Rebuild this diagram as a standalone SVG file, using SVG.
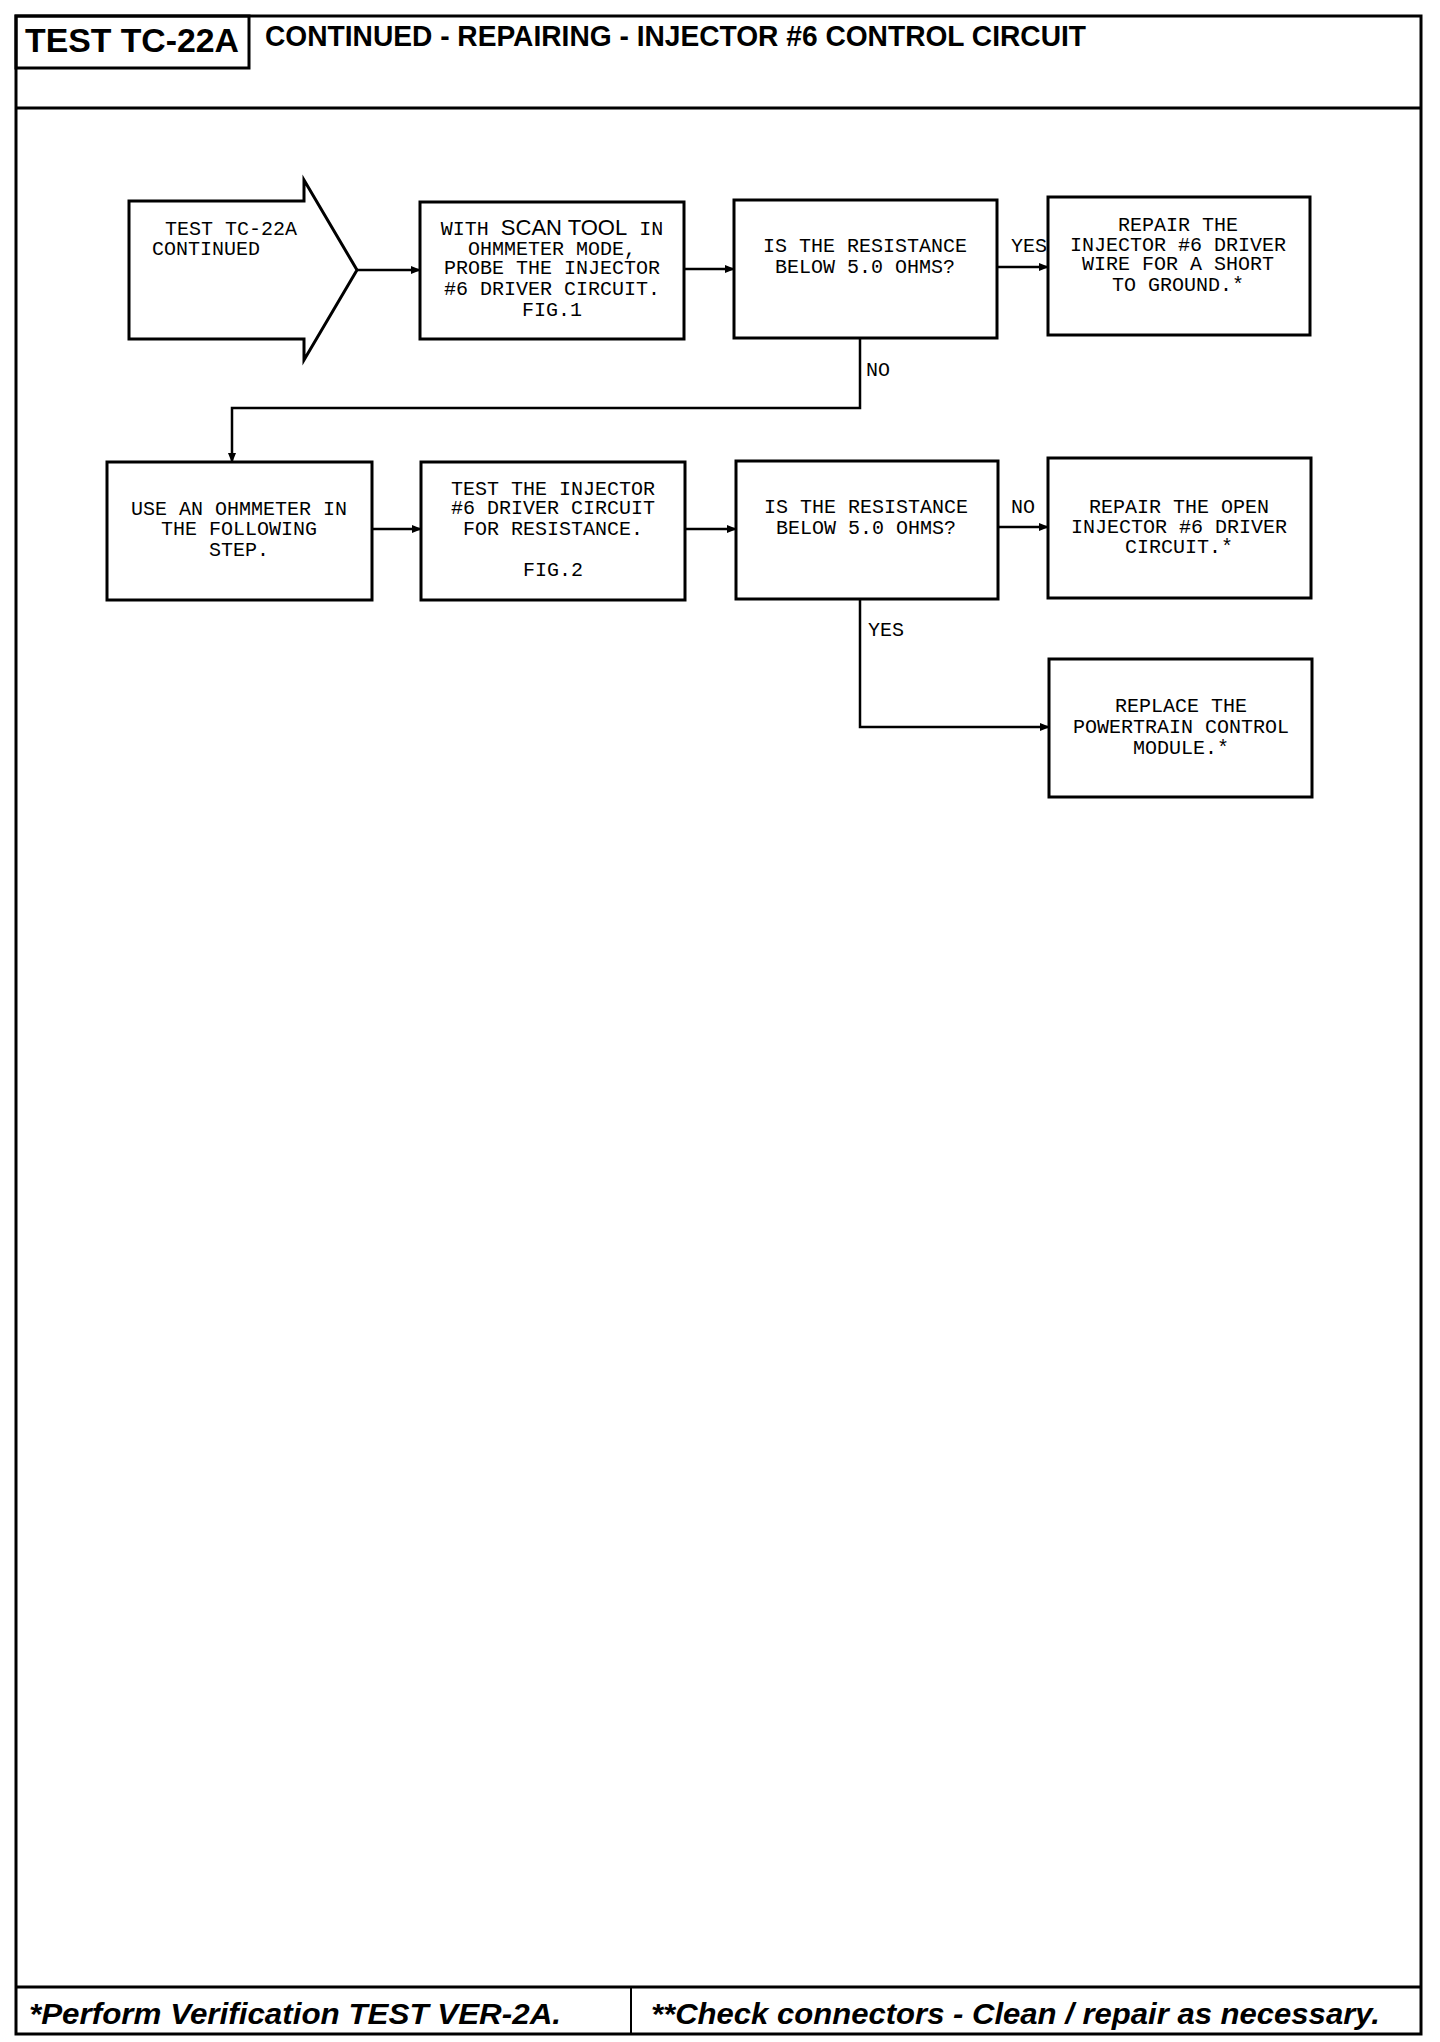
<svg xmlns="http://www.w3.org/2000/svg" width="1440" height="2042" viewBox="0 0 1440 2042">
<style>
.frame{fill:none;stroke:#000;stroke-width:3}
.box{fill:#fff;stroke:#000;stroke-width:3}
.con{fill:none;stroke:#000;stroke-width:2.5}
.t{font-family:"Liberation Mono","DejaVu Sans Mono",monospace;font-size:20px;fill:#000;text-anchor:middle}
.lbl{font-family:"Liberation Mono","DejaVu Sans Mono",monospace;font-size:20px;fill:#000}
.hd{font-family:"Liberation Sans",Arial,sans-serif;font-weight:bold;fill:#000}
.ft{font-family:"Liberation Sans",Arial,sans-serif;font-weight:bold;font-style:italic;fill:#000}
</style>
<defs>
<marker id="ah" markerWidth="10" markerHeight="8" refX="9" refY="4" orient="auto" markerUnits="userSpaceOnUse">
<path d="M0,0 L10,4 L0,8 Z" fill="#000"/>
</marker>
</defs>
<rect width="1440" height="2042" fill="#fff"/>
<g id="frame">
<rect class="frame" x="16" y="16" width="1405" height="2018"/>
<rect class="frame" x="16" y="16" width="233" height="52"/>
<line class="frame" x1="16" y1="108" x2="1421" y2="108"/>
<line class="frame" x1="16" y1="1987" x2="1421" y2="1987"/>
<line x1="631" y1="1987" x2="631" y2="2034" stroke="#000" stroke-width="2"/>
<text class="hd" x="25" y="52" font-size="34" textLength="214" lengthAdjust="spacingAndGlyphs">TEST TC-22A</text>
<text class="hd" x="265" y="46" font-size="29" textLength="821" lengthAdjust="spacingAndGlyphs">CONTINUED - REPAIRING - INJECTOR #6 CONTROL CIRCUIT</text>
<text class="ft" x="29" y="2024" font-size="30" textLength="532" lengthAdjust="spacingAndGlyphs">*Perform Verification TEST VER-2A.</text>
<text class="ft" x="651" y="2024" font-size="30" textLength="729" lengthAdjust="spacingAndGlyphs">**Check connectors - Clean / repair as necessary.</text>
</g>
<g id="connectors">
<line class="con" x1="357" y1="270" x2="420" y2="270" marker-end="url(#ah)"/>
<line class="con" x1="684" y1="269" x2="734" y2="269" marker-end="url(#ah)"/>
<line class="con" x1="997" y1="267" x2="1048" y2="267" marker-end="url(#ah)"/>
<polyline class="con" points="860,338 860,408 232,408 232,462" marker-end="url(#ah)"/>
<line class="con" x1="372" y1="529" x2="421" y2="529" marker-end="url(#ah)"/>
<line class="con" x1="685" y1="529" x2="736" y2="529" marker-end="url(#ah)"/>
<line class="con" x1="998" y1="527" x2="1048" y2="527" marker-end="url(#ah)"/>
<polyline class="con" points="860,599 860,727 1049,727" marker-end="url(#ah)"/>
<text class="lbl" x="1011" y="252">YES</text>
<text class="lbl" x="866" y="376">NO</text>
<text class="lbl" x="1011" y="513">NO</text>
<text class="lbl" x="868" y="636">YES</text>
</g>
<g id="start">
<polygon class="box" points="129,201 304,201 304,180 357,270 304,360 304,339 129,339"/>
<text class="lbl" x="165" y="235">TEST TC-22A</text>
<text class="lbl" x="152" y="255">CONTINUED</text>
</g>
<g id="probe">
<rect class="box" x="420" y="202" width="264" height="137"/>
<text class="t" x="552" y="235">WITH <tspan font-family="Liberation Sans, Arial, sans-serif" font-size="22">SCAN TOOL</tspan> IN</text>
<text class="t" x="552" y="255">OHMMETER MODE,</text>
<text class="t" x="552" y="274">PROBE THE INJECTOR</text>
<text class="t" x="552" y="295">#6 DRIVER CIRCUIT.</text>
<text class="t" x="552" y="316">FIG.1</text>
</g>
<g id="decision1">
<rect class="box" x="734" y="200" width="263" height="138"/>
<text class="t" x="865" y="252">IS THE RESISTANCE</text>
<text class="t" x="865" y="273">BELOW 5.0 OHMS?</text>
</g>
<g id="repair-short">
<rect class="box" x="1048" y="197" width="262" height="138"/>
<text class="t" x="1178" y="231">REPAIR THE</text>
<text class="t" x="1178" y="251">INJECTOR #6 DRIVER</text>
<text class="t" x="1178" y="270">WIRE FOR A SHORT</text>
<text class="t" x="1178" y="291">TO GROUND.*</text>
</g>
<g id="use-ohmmeter">
<rect class="box" x="107" y="462" width="265" height="138"/>
<text class="t" x="239" y="515">USE AN OHMMETER IN</text>
<text class="t" x="239" y="535">THE FOLLOWING</text>
<text class="t" x="239" y="556">STEP.</text>
</g>
<g id="test-injector">
<rect class="box" x="421" y="462" width="264" height="138"/>
<text class="t" x="553" y="495">TEST THE INJECTOR</text>
<text class="t" x="553" y="514">#6 DRIVER CIRCUIT</text>
<text class="t" x="553" y="535">FOR RESISTANCE.</text>
<text class="t" x="553" y="576">FIG.2</text>
</g>
<g id="decision2">
<rect class="box" x="736" y="461" width="262" height="138"/>
<text class="t" x="866" y="513">IS THE RESISTANCE</text>
<text class="t" x="866" y="534">BELOW 5.0 OHMS?</text>
</g>
<g id="repair-open">
<rect class="box" x="1048" y="458" width="263" height="140"/>
<text class="t" x="1179" y="513">REPAIR THE OPEN</text>
<text class="t" x="1179" y="533">INJECTOR #6 DRIVER</text>
<text class="t" x="1179" y="553">CIRCUIT.*</text>
</g>
<g id="replace-pcm">
<rect class="box" x="1049" y="659" width="263" height="138"/>
<text class="t" x="1181" y="712">REPLACE THE</text>
<text class="t" x="1181" y="733">POWERTRAIN CONTROL</text>
<text class="t" x="1181" y="754">MODULE.*</text>
</g>
</svg>
